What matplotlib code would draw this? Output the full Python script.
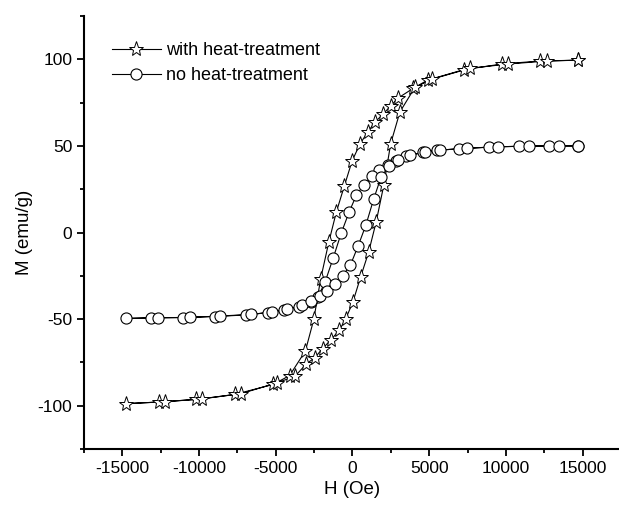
"""
Hysteresis loops, with and without heat-treatment
"""

import matplotlib
matplotlib.use("Agg")
import matplotlib.pyplot as plt
from matplotlib.ticker import MultipleLocator

plt.rcParams['font.family'] = ['Liberation Sans', 'DejaVu Sans']
plt.rcParams['axes.unicode_minus'] = False

# with heat-treatment: descending branch then ascending branch
h_star = [14700, 12200, 9750, 7250, 4900, 3950, 2950, 2500, 2000, 1450, 980, 480,
          -30, -540, -1050, -1540, -2080, -2520, -3070, -4100, -5170, -7680, -10180,
          -12640, -14750,
          -12250, -9790, -7290, -4890, -3750, -3000, -2460, -1950, -1410, -860, -450,
          20, 540, 1050, 1540, 2040, 2490, 3090, 4070, 5200, 7650, 10160, 12650, 14700]
m_star = [99.5, 99.0, 97.3, 94.0, 88.0, 83.2, 77.5, 73.2, 68.4, 63.6, 57.8, 51.0,
          41.2, 26.6, 11.9, -5.4, -27.0, -50.1, -68.4, -82.6, -87.7, -93.5, -96.4,
          -97.9, -98.8,
          -97.7, -96.0, -93.1, -86.7, -83.0, -75.8, -72.3, -67.0, -62.0, -56.4, -50.0,
          -40.3, -25.4, -11.4, 6.0, 27.3, 51.3, 69.6, 83.8, 88.6, 94.8, 97.3, 99.0, 99.5]

# no heat-treatment
h_circ = [14720, 12800, 10850, 8890, 6960, 5480, 4570, 3520, 2830, 2330, 1760, 1240,
          760, 260, -230, -740, -1250, -1790, -2240, -2720, -3480, -4460, -5500, -6960,
          -8980, -11040, -13110, -14740,
          -12680, -10610, -8610, -6590, -5240, -4240, -3260, -2680, -2150, -1650,
          -1155, -650, -140, 370, 870, 1380, 1870, 2400, 2950, 3740, 4720, 5700, 7440,
          9460, 11520, 13450, 14720]
m_circ = [50.0, 50.0, 49.8, 49.3, 48.4, 47.4, 46.2, 43.9, 41.4, 39.0, 36.2, 32.4,
          27.7, 21.7, 11.6, -0.5, -14.5, -28.7, -37.0, -39.9, -42.8, -44.7, -46.2,
          -47.6, -48.5, -49.1, -49.3, -49.6,
          -49.2, -49.0, -48.2, -47.3, -45.9, -44.3, -42.0, -39.5, -36.6, -33.8,
          -30.0, -25.0, -18.9, -7.7, 4.2, 19.3, 32.2, 38.6, 41.8, 44.7, 46.6, 47.6,
          48.6, 49.5, 49.9, 50.0, 50.0]

fig = plt.figure(figsize=(6.19, 5.08), dpi=100)
ax = fig.add_axes([0.1357, 0.1161, 0.8675, 0.8524])

ax.plot(h_star, m_star, color='black', lw=0.8, marker='*', ms=11,
        mfc='white', mec='black', mew=0.7, label='with heat-treatment')
ax.plot(h_circ, m_circ, color='black', lw=0.8, marker='o', ms=8,
        mfc='white', mec='black', mew=0.8, label='no heat-treatment')

ax.set_xlim(-17500, 17500)
ax.set_ylim(-125, 125)
ax.xaxis.set_major_locator(MultipleLocator(5000))
ax.xaxis.set_minor_locator(MultipleLocator(2500))
ax.yaxis.set_major_locator(MultipleLocator(50))
ax.yaxis.set_minor_locator(MultipleLocator(25))

for s in ['top', 'right']:
    ax.spines[s].set_visible(False)
for s in ['left', 'bottom']:
    ax.spines[s].set_linewidth(1.5)

ax.tick_params(which='major', direction='out', length=5, width=1.3, labelsize=12.5)
ax.tick_params(which='minor', direction='out', length=3, width=1.3)

ax.set_xlabel('H (Oe)', fontsize=13.5, labelpad=4)
ax.set_ylabel('M (emu/g)', fontsize=13.5, labelpad=3)

ax.legend(loc='upper left', bbox_to_anchor=(0.052, 0.94), frameon=False,
          fontsize=13, borderpad=0, borderaxespad=0, handlelength=2.7,
          handletextpad=0.3, labelspacing=0.45)

fig.savefig('out.png', dpi=100)
